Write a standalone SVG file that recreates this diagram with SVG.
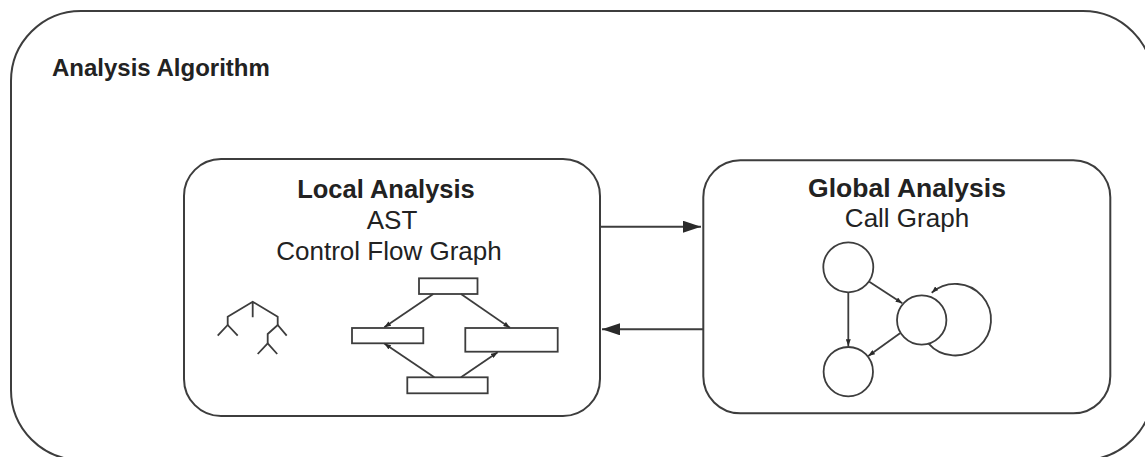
<svg xmlns="http://www.w3.org/2000/svg" width="1145" height="457" viewBox="0 0 1145 457">
  <style>
    .frame { fill: none; stroke: #3d3d3d; stroke-width: 2; }
    .box { fill: #ffffff; stroke: #3d3d3d; stroke-width: 2; }
    .line { fill: none; stroke: #3d3d3d; stroke-width: 2; }
    .thin { fill: none; stroke: #3d3d3d; stroke-width: 1.8; }
    .title { font-family: "Liberation Sans", Arial, sans-serif; font-weight: bold; fill: #222222; }
    .label { font-family: "Liberation Sans", Arial, sans-serif; fill: #222222; }
  </style>
  <defs>
    <marker id="bigHead" viewBox="0 0 18 12" refX="18" refY="6" markerWidth="18" markerHeight="12" markerUnits="userSpaceOnUse" orient="auto">
      <path d="M0,0 L18,6 L0,12 Z" fill="#2a2a2a"/>
    </marker>
    <marker id="smallHead" viewBox="0 0 8 6" refX="8" refY="3" markerWidth="7" markerHeight="5" markerUnits="userSpaceOnUse" orient="auto">
      <path d="M0,0 L8,3 L0,6 Z" fill="#2a2a2a"/>
    </marker>
  </defs>

  <!-- outer container -->
  <g id="analysis-algorithm">
    <rect class="frame" x="11" y="11" width="1142" height="449" rx="70" ry="70"/>
    <text class="title" x="52" y="76" font-size="24">Analysis Algorithm</text>
  </g>

  <!-- local analysis -->
  <g id="local-analysis">
    <rect class="box" x="184" y="159" width="416" height="257" rx="37" ry="37"/>
    <text class="title" x="386" y="198" font-size="25.5" text-anchor="middle">Local Analysis</text>
    <text class="label" x="392" y="229" font-size="26" text-anchor="middle">AST</text>
    <text class="label" x="389" y="260" font-size="26" text-anchor="middle">Control Flow Graph</text>

    <!-- syntax tree -->
    <g id="ast-tree">
      <path class="thin" d="M252.7,317.3 V301.7 M227.7,325 V316.7 L252.7,301.7 L277.7,316.7 V325"/>
      <path class="thin" d="M217.7,335.7 L227.7,325 L237.7,335.7"/>
      <path class="thin" d="M286.7,335.7 L277.7,325 L267.7,334 V343.3"/>
      <path class="thin" d="M257.7,354 L267.7,343.3 L277.2,354"/>
    </g>

    <!-- control flow graph -->
    <g id="cfg">
      <rect class="thin" x="419" y="278.3" width="58.5" height="15.7"/>
      <rect class="thin" x="352" y="328" width="71.3" height="15.3"/>
      <rect class="thin" x="465.3" y="328" width="92.4" height="23.7"/>
      <rect class="thin" x="407.3" y="377.3" width="80.4" height="16"/>
      <path class="thin" d="M433.3,294 L384.3,327.3" marker-end="url(#smallHead)"/>
      <path class="thin" d="M461,294 L510,327.8" marker-end="url(#smallHead)"/>
      <path class="thin" d="M434.3,377.3 L384.3,343.6" marker-end="url(#smallHead)"/>
      <path class="thin" d="M461,377.3 L497.7,352.2" marker-end="url(#smallHead)"/>
    </g>
  </g>

  <!-- global analysis -->
  <g id="global-analysis">
    <rect class="box" x="703.3" y="160.3" width="407" height="253" rx="37" ry="37"/>
    <text class="title" x="907" y="197" font-size="26.5" text-anchor="middle">Global Analysis</text>
    <text class="label" x="907" y="227" font-size="26" text-anchor="middle">Call Graph</text>

    <!-- call graph -->
    <g id="call-graph">
      <circle class="thin" cx="848.3" cy="267.3" r="25"/>
      <circle class="thin" cx="921.7" cy="320" r="24.7"/>
      <circle class="thin" cx="848.3" cy="371.7" r="24.7"/>
      <path class="thin" d="M848.3,292.3 V346" marker-end="url(#smallHead)"/>
      <path class="thin" d="M869.3,281.7 L902.3,303.3" marker-end="url(#smallHead)"/>
      <path class="thin" d="M900,333.3 L868.3,356" marker-end="url(#smallHead)"/>
      <path class="thin" d="M928.3,343.3 A35.8,35.8 0 1 0 931.7,292.7" marker-end="url(#smallHead)"/>
    </g>
  </g>

  <!-- connectors between the two analyses -->
  <g id="connectors">
    <path class="line" d="M600,226.7 L701,226.7" marker-end="url(#bigHead)"/>
    <path class="line" d="M703.3,329.3 L602,329.3" marker-end="url(#bigHead)"/>
  </g>
</svg>
